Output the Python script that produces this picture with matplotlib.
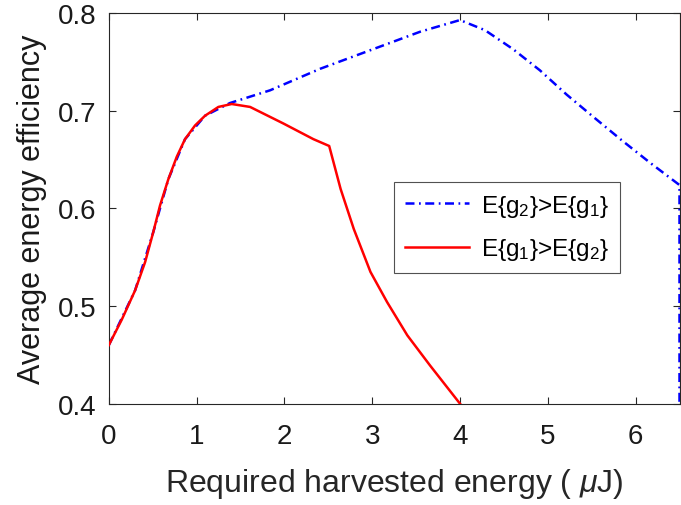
import numpy as np
import matplotlib
matplotlib.use("Agg")
import matplotlib.pyplot as plt

plt.rcParams["font.family"] = ["Liberation Sans", "DejaVu Sans"]
plt.rcParams["mathtext.fontset"] = "custom"
plt.rcParams["mathtext.rm"] = "Liberation Sans"
plt.rcParams["mathtext.it"] = "Liberation Sans:italic"

# red curve: E{g1} > E{g2}
x_red = [0.0, 0.147, 0.299, 0.413, 0.507, 0.583, 0.678, 0.774, 0.868, 0.982, 1.096,
         1.248, 1.40, 1.609, 1.989, 2.33, 2.51, 2.64, 2.79, 2.98, 3.17, 3.40, 3.66, 4.0]
y_red = [0.460, 0.486, 0.516, 0.545, 0.576, 0.603, 0.630, 0.653, 0.671, 0.685, 0.695,
         0.704, 0.707, 0.704, 0.687, 0.671, 0.664, 0.620, 0.579, 0.535, 0.504, 0.470,
         0.439, 0.400]

# blue curve: E{g2} > E{g1}
x_blue = [0.0, 0.299, 0.507, 0.678, 0.868, 1.096, 1.38, 1.836, 2.405, 2.975, 3.545, 4.0,
          4.285, 4.607, 4.91, 5.215, 5.52, 5.84, 6.165, 6.5, 6.5]
y_blue = [0.460, 0.516, 0.576, 0.630, 0.671, 0.695, 0.708, 0.721, 0.743, 0.762, 0.781,
          0.793, 0.7826, 0.763, 0.7415, 0.7166, 0.6937, 0.670, 0.6468, 0.624, 0.400]

fig = plt.figure(figsize=(6.81, 5.06), dpi=100)
ax = fig.add_axes([0.1598, 0.2002, 0.838, 0.7717])

ax.axvline(6.5, color=(0.85, 0.325, 0.098), lw=0.8, zorder=1)
ax.plot(x_blue, y_blue, color="blue", lw=1.8, dashes=(3.6, 1.8, 0.7, 1.8),
        label=r"E{g$_2$}>E{g$_1$}", zorder=2)
ax.plot(x_red, y_red, color="red", lw=1.8, label=r"E{g$_1$}>E{g$_2$}", zorder=3)

ax.set_xlim(0, 6.5)
ax.set_ylim(0.4, 0.8)
ax.set_xticks(np.arange(0, 7, 1))
ax.set_yticks([0.4, 0.5, 0.6, 0.7, 0.8])
ax.set_yticklabels(["0.4", "0.5", "0.6", "0.7", "0.8"])

for s in ax.spines.values():
    s.set_color("0.15")
    s.set_linewidth(0.8)
ax.tick_params(direction="in", top=True, right=True, length=5, width=0.8,
               color="0.15", labelsize=20, labelcolor="0.1")
ax.tick_params(axis="y", pad=9)
ax.tick_params(axis="x", pad=14)

ax.set_xlabel(r"Required harvested energy ( $\mu$J)", fontsize=23, color="0.15",
              labelpad=12)
ax.set_ylabel("Average energy efficiency", fontsize=22, color="0.1", labelpad=8)

leg = ax.legend(loc="upper left", bbox_to_anchor=(0.4995, 0.568), fontsize=17.5,
                frameon=True, fancybox=False, handlelength=2.65, borderpad=0.45,
                labelspacing=0.72, handletextpad=0.5, borderaxespad=0)
leg.get_frame().set_edgecolor("0.15")
leg.get_frame().set_linewidth(0.8)

fig.savefig("out.png", dpi=100)
